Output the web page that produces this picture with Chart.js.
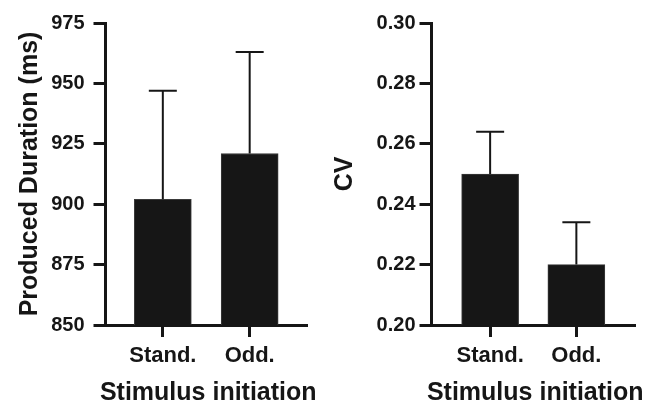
<!DOCTYPE html>
<html>
<head>
<meta charset="utf-8">
<script src="https://cdn.jsdelivr.net/npm/chart.js@4.4.1/dist/chart.umd.min.js"></script>
<style>
    html, body { margin: 0; padding: 0; background: #fff; }
    #wrap { position: relative; width: 655px; height: 402px; }
    #durChart { position: absolute; left: 0; top: 0; }
    #cvChart { position: absolute; left: 330px; top: 0; }
</style>
</head>
<body>
<div id="wrap">
    <canvas id="durChart" width="330" height="402"></canvas>
    <canvas id="cvChart" width="325" height="402"></canvas>
</div>
<script>
// Dados
const categorias = ['Stand.', 'Odd.'];
const duracaoMedia = [902, 921];
const duracaoErro = [45, 42];
const cvMedia = [0.250, 0.220];
const cvErro = [0.014, 0.014];
const duracaoTicks = [850, 875, 900, 925, 950, 975];
const cvTicks = [0.20, 0.22, 0.24, 0.26, 0.28, 0.30];
const tituloX = 'Stimulus initiation';

const COR = '#161616';
const FONTE = "'Liberation Sans', Arial, Helvetica, sans-serif";

// Barras de erro só para cima (estilo GraphPad)
const errorBarsPlugin = {
    id: 'errorBars',
    afterDatasetsDraw(chart, args, opts) {
        const ctx = chart.ctx;
        const yScale = chart.scales.y;
        const meta = chart.getDatasetMeta(0);
        const medias = chart.data.datasets[0].data;
        ctx.save();
        ctx.strokeStyle = COR;
        ctx.lineWidth = 2;
        meta.data.forEach((bar, i) => {
            const topo = yScale.getPixelForValue(medias[i].y + opts.erros[i]);
            ctx.beginPath();
            ctx.moveTo(bar.x, bar.y);
            ctx.lineTo(bar.x, topo);
            ctx.moveTo(bar.x - 14, topo);
            ctx.lineTo(bar.x + 14, topo);
            ctx.stroke();
        });
        ctx.restore();
    }
};

// Título do eixo X sem compressão (o título da escala fica limitado à largura da área)
const xTitlePlugin = {
    id: 'xTitle',
    afterDraw(chart, args, opts) {
        const ctx = chart.ctx;
        const area = chart.chartArea;
        ctx.save();
        ctx.fillStyle = COR;
        ctx.font = 'bold 25px ' + FONTE;
        ctx.textAlign = 'center';
        ctx.textBaseline = 'alphabetic';
        ctx.fillText(opts.text, (area.left + area.right) / 2 + 2, 400);
        ctx.restore();
    }
};

function criarGrafico(id, medias, erros, ticksY, cfg) {
    const ctx = document.getElementById(id).getContext('2d');
    return new Chart(ctx, {
        type: 'bar',
        data: {
            datasets: [{
                data: medias.map((v, i) => ({ x: i + 1, y: v })),
                backgroundColor: COR,
                borderColor: '#3a3a3a',
                borderWidth: 1,
                barThickness: 57
            }]
        },
        options: {
            responsive: false,
            animation: false,
            devicePixelRatio: 1,
            layout: { padding: { top: 23, right: cfg.padRight, left: 0, bottom: 0 } },
            plugins: {
                legend: { display: false },
                tooltip: { enabled: false },
                errorBars: { erros: erros },
                xTitle: { text: tituloX }
            },
            scales: {
                x: {
                    type: 'linear',
                    offset: false,
                    min: cfg.xMin,
                    max: cfg.xMax,
                    afterBuildTicks: (scale) => {
                        scale.ticks = categorias.map((c, i) => ({ value: i + 1 }));
                    },
                    afterFit: (scale) => { scale.height = 77; },
                    border: { display: true, width: 3, color: COR },
                    grid: { offset: false, drawOnChartArea: false, drawTicks: true, tickLength: 12, tickWidth: 3, tickColor: COR },
                    ticks: {
                        padding: 6,
                        color: COR,
                        font: { family: FONTE, size: 22, weight: 'bold' },
                        callback: (v) => categorias[v - 1] || ''
                    }
                },
                y: {
                    min: ticksY[0],
                    max: ticksY[ticksY.length - 1],
                    afterBuildTicks: (scale) => {
                        scale.ticks = ticksY.map(v => ({ value: v }));
                    },
                    afterFit: (scale) => { scale.width = cfg.yWidth; },
                    border: { display: true, width: 3, color: COR },
                    grid: { drawOnChartArea: false, drawTicks: true, tickLength: 12, tickWidth: 3, tickColor: COR },
                    ticks: {
                        padding: cfg.tickPad,
                        color: COR,
                        font: { family: FONTE, size: 20, weight: 'bold' },
                        callback: cfg.fmt
                    },
                    title: {
                        display: true,
                        text: cfg.titulo,
                        color: COR,
                        padding: { top: cfg.titlePad, bottom: 0 },
                        font: { family: FONTE, size: 25, weight: 'bold', lineHeight: 1.2 }
                    }
                }
            }
        },
        plugins: [errorBarsPlugin, xTitlePlugin]
    });
}

criarGrafico('durChart', duracaoMedia, duracaoErro, duracaoTicks, {
    titulo: 'Produced Duration (ms)',
    xMin: 0.34, xMax: 2.66,
    padRight: 23, yWidth: 105.5, tickPad: 9, titlePad: 15,
    fmt: (v) => v.toFixed(0)
});

criarGrafico('cvChart', cvMedia, cvErro, cvTicks, {
    titulo: 'CV',
    xMin: 0.32, xMax: 2.68,
    padRight: 20, yWidth: 101.5, tickPad: 4, titlePad: 0,
    fmt: (v) => v.toFixed(2)
});
</script>
</body>
</html>
